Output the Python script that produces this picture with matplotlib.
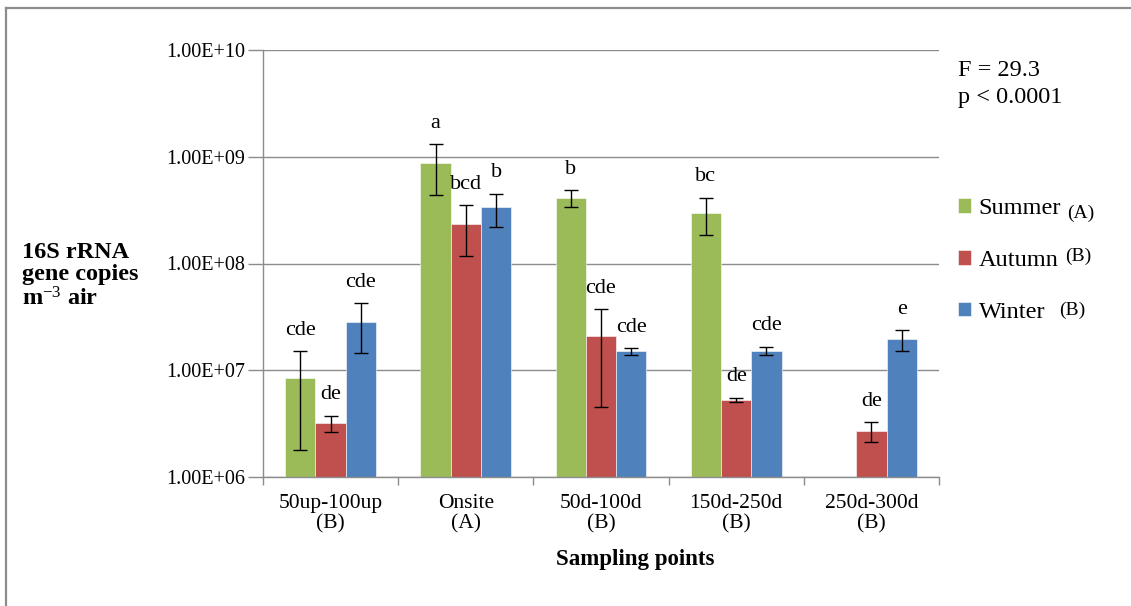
import numpy as np
import matplotlib
matplotlib.use("Agg")
import matplotlib.pyplot as plt
from matplotlib.patches import Patch
from matplotlib.lines import Line2D
from matplotlib.ticker import FuncFormatter, FixedLocator

plt.rcParams['font.family'] = ['Liberation Serif', 'DejaVu Serif']
plt.rcParams['mathtext.fontset'] = 'custom'
plt.rcParams['mathtext.rm'] = 'Liberation Serif'
plt.rcParams['mathtext.it'] = 'Liberation Serif:italic'
plt.rcParams['mathtext.bf'] = 'Liberation Serif:bold'

# data
sites = ['50up-100up', 'Onsite', '50d-100d', '150d-250d', '250d-300d']
site_groups = ['(B)', '(A)', '(B)', '(B)', '(B)']

summer = [8.5e6, 8.8e8, 4.1e8, 3.0e8, np.nan]
summer_err = [6.7e6, 4.4e8, 0.75e8, 1.15e8, np.nan]
autumn = [3.2e6, 2.35e8, 2.1e7, 5.3e6, 2.7e6]
autumn_err = [0.56e6, 1.17e8, 1.65e7, 0.25e6, 0.55e6]
winter = [2.85e7, 3.35e8, 1.5e7, 1.52e7, 1.95e7]
winter_err = [1.4e7, 1.15e8, 1.2e6, 1.4e6, 4.4e6]

summer_letters = ['cde', 'a', 'b', 'bc', '']
autumn_letters = ['de', 'bcd', 'cde', 'de', 'de']
winter_letters = ['cde', 'b', 'cde', 'cde', 'e']

season_names = ['Summer', 'Autumn', 'Winter']
season_groups = ['(A)', '(B)', '(B)']
colors = ['#9BBB59', '#C0504D', '#4F81BD']

W, H = 1131, 606
fig = plt.figure(figsize=(W / 100, H / 100), dpi=100)
ax = fig.add_axes([263 / W, 1 - 477 / H, (939 - 263) / W, (477 - 50) / H])

x = np.arange(len(sites))
bw = 0.224
series = [(summer, summer_err, summer_letters),
          (autumn, autumn_err, autumn_letters),
          (winter, winter_err, winter_letters)]

for i, (vals, errs, letters) in enumerate(series):
    vals = np.array(vals, dtype=float)
    errs = np.array(errs, dtype=float)
    xs = x + (i - 1) * bw
    ok = np.isfinite(vals)
    ax.bar(xs[ok], vals[ok], width=bw, color=colors[i], log=True,
           edgecolor='white', linewidth=0.4, zorder=2)
    ax.errorbar(xs[ok], vals[ok], yerr=errs[ok], fmt='none', ecolor='black',
                elinewidth=1, capsize=5, capthick=1, zorder=3)
    for xx, v, e, lab in zip(xs, vals, errs, letters):
        if lab and np.isfinite(v):
            ax.annotate(lab, (xx, v + e), xytext=(0, 15), textcoords='offset points',
                        ha='center', va='center', fontsize=16)

ax.set_ylim(1e6, 1e10)
ax.set_xlim(-0.5, len(sites) - 0.5)
ax.yaxis.set_major_locator(FixedLocator([1e6, 1e7, 1e8, 1e9, 1e10]))
ax.yaxis.set_minor_locator(FixedLocator([]))
ax.yaxis.set_major_formatter(FuncFormatter(lambda v, p: f"{v:.2E}"))
ax.grid(axis='y', color='#8c8c8c', linewidth=1, zorder=0)
ax.set_axisbelow(True)

ax.set_xticks(x, [f"{s}\n{g}" for s, g in zip(sites, site_groups)])
ax.set_xticks(np.arange(len(sites) + 1) - 0.5, minor=True)
ax.tick_params(axis='x', which='major', length=0, pad=12, labelsize=15.5)
ax.tick_params(axis='x', which='minor', length=6, color='#8c8c8c', width=1)
ax.tick_params(axis='y', length=11, color='#8c8c8c', width=1, labelsize=14.5, pad=2)
plt.setp(ax.get_xticklabels(), linespacing=1.1)

for s in ['top', 'right']:
    ax.spines[s].set_visible(False)
for s in ['left', 'bottom']:
    ax.spines[s].set_color('#8c8c8c')
    ax.spines[s].set_linewidth(1)

# axis titles
fig.text(22 / W, 1 - 276 / H, '16S rRNA\ngene copies\nm$^{-3}$ air', fontsize=17.5,
         fontweight='bold', ha='left', va='center', linespacing=1.1)
fig.text(635 / W, 1 - 559 / H, 'Sampling points', fontsize=16.5, fontweight='bold',
         ha='center', va='center')

# statistics
fig.text(958 / W, 1 - 70 / H, 'F = 29.3', fontsize=17.5, ha='left', va='center')
fig.text(958 / W, 1 - 97 / H, 'p < 0.0001', fontsize=17.5, ha='left', va='center')

# legend
handles = [Patch(facecolor=c, edgecolor='white', linewidth=0.4) for c in colors]
ax.legend(handles, season_names, frameon=False, fontsize=17.5, loc='upper left',
          bbox_to_anchor=(958 / W, 1 - 198 / H), bbox_transform=fig.transFigure,
          handlelength=0.55, handleheight=0.55, handletextpad=0.3, labelspacing=1.27,
          borderpad=0, borderaxespad=0)
sfx_pos = [(1067, 213), (1065, 256), (1059, 310)]
for g, (px, py) in zip(season_groups, sfx_pos):
    fig.text(px / W, 1 - py / H, g, fontsize=14, ha='left', va='center')

# outer frame (left and top edges visible)
fig.add_artist(Line2D([5.5 / W, 5.5 / W], [0, 1 - 8 / H], color='#8c8c8c', lw=1.6))
fig.add_artist(Line2D([5.5 / W, 1], [1 - 8 / H, 1 - 8 / H], color='#8c8c8c', lw=1.6))

fig.savefig('out.png', dpi=100)
